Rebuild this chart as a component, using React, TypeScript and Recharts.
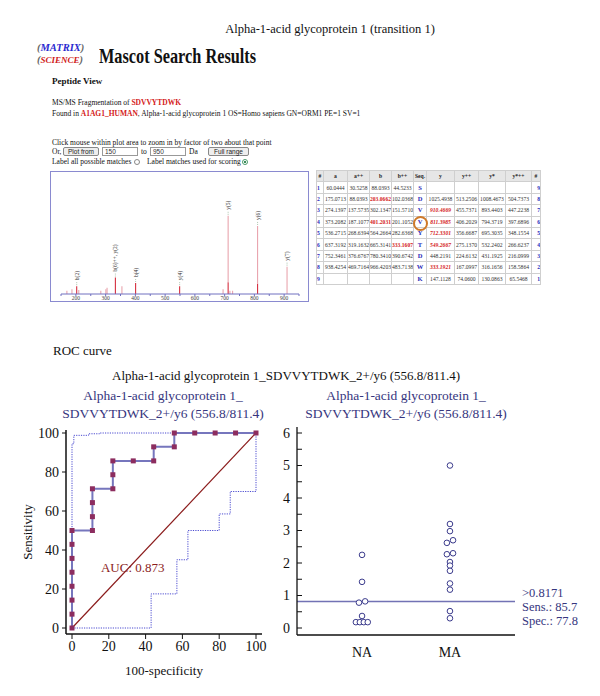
import React from 'react';
import {
  BarChart, Bar, XAxis, YAxis, LabelList, ComposedChart, Line, Scatter,
  ReferenceLine, ReferenceDot,
} from 'recharts';

const FONT = '"Liberation Serif", "Times New Roman", serif';
const NAVY = '#36367e';

// ---------- Spectrum (MS/MS) ----------
const peakMz = [170, 187, 203, 210, 284, 301, 305, 333, 355, 401, 549, 695, 712, 718, 727, 811, 910];
const peakMatched = [0, 0, 10, 0, 0, 0, 0, 21, 0, 14, 10, 0, 15, 0, 0, 13, 0];
const peakOther = [4, 6, 0, 5, 4, 6, 8, 0, 10, 0, 0, 6, 85, 4, 4, 74, 35];
const peakLabels = ['', '', 'b(2)', '', '', '', '', 'b(6)++, y(2)', '', 'b(4)', 'y(4)', '', 'y(5)', '', '', 'y(6)', 'y(7)'];
const spectrumTicks = [150, 200, 250, 300, 350, 400, 450, 500, 550, 600, 650, 700, 750, 800, 850, 900, 950];

const spectrumData = peakMz.map((mz, i) => ({
  mz, matched: peakMatched[i], other: peakOther[i], label: peakLabels[i],
}));

// ---------- Fragment table ----------
const tableHeader = ['#', 'a', 'a++', 'b', 'b++', 'Seq.', 'y', 'y++', 'y*', 'y*++', '#'];
const colA = ['60.0444', '175.0713', '274.1397', '373.2082', '536.2715', '637.3192', '752.3461', '938.4254', ''];
const colA2 = ['30.5258', '88.0393', '137.5735', '187.1077', '268.6394', '319.1632', '376.6767', '469.7164', ''];
const colB = ['88.0393', '203.0662', '302.1347', '401.2031', '564.2664', '665.3141', '780.3410', '966.4203', ''];
const colB2 = ['44.5233', '102.0368', '151.5710', '201.1052', '282.6368', '333.1607', '390.6742', '483.7138', ''];
const seqRes = ['S', 'D', 'V', 'V', 'Y', 'T', 'D', 'W', 'K'];
const colY = ['', '1025.4938', '910.4669', '811.3985', '712.3301', '549.2667', '448.2191', '333.1921', '147.1128'];
const colY2 = ['', '513.2506', '455.7371', '406.2029', '356.6687', '275.1370', '224.6132', '167.0997', '74.0600'];
const colYs = ['', '1008.4673', '893.4403', '794.3719', '695.3035', '532.2402', '431.1925', '316.1656', '130.0863'];
const colYs2 = ['', '504.7373', '447.2238', '397.6896', '348.1554', '266.6237', '216.0999', '158.5864', '65.5468'];
const redB = ['203.0662', '401.2031'];
const redB2 = ['333.1607'];
const redY = ['910.4669', '811.3985', '712.3301', '549.2667', '333.1921'];
const colWidths = [7, 24, 22, 22, 22, 13, 28, 24, 27, 26, 9];

// ---------- ROC curve ----------
const rocFpr = [0, 0, 0, 0, 0, 0, 0, 0, 11.1, 11.1, 11.1, 11.1, 22.2, 22.2, 22.2, 33.3, 44.4, 44.4, 55.6, 55.6, 66.7, 77.8, 88.9, 100];
const rocTpr = [0, 7.1, 14.3, 21.4, 28.6, 35.7, 42.9, 50, 50, 57.1, 64.3, 71.4, 71.4, 78.6, 85.7, 85.7, 85.7, 92.9, 92.9, 100, 100, 100, 100, 100];
const upperCiX = [0, 0, 1, 1, 9, 9, 15, 15, 100];
const upperCiY = [0, 94.5, 94.5, 98.8, 98.8, 99.6, 99.6, 100, 100];
const lowerCiX = [0, 43, 43, 57, 57, 63, 63, 80, 80, 86, 86, 100, 100];
const lowerCiY = [0, 0, 17.5, 17.5, 35, 35, 50, 50, 58.5, 58.5, 70, 70, 100];
const diagX = [0, 100];
const diagY = [0, 100];
const rocTicks = [0, 20, 40, 60, 80, 100];

const zip = (xs: number[], ys: number[]) => xs.map((x, i) => ({ x, y: ys[i] }));

// ---------- Dot plot ----------
const groupNames = ['NA', 'MA'];
const naValues = [2.25, 1.42, 0.78, 0.82, 0.37, 0.18, 0.18, 0.18, 0.18];
const naJitter = [0, 0, -0.035, 0.035, 0, -0.07, -0.025, 0.02, 0.065];
const maValues = [5.0, 3.2, 2.98, 2.7, 2.62, 2.3, 2.27, 2.03, 1.92, 1.76, 1.37, 1.18, 0.52, 0.3];
const maJitter = [0, 0, 0, 0.035, -0.035, 0.035, -0.035, 0, 0, 0, 0, 0, 0, 0];
const cutoff = 0.8171;
const cutoffText = ['>0.8171', 'Sens.: 85.7', 'Spec.: 77.8'];
const dotTicks = [0, 0.5, 1, 1.5, 2, 2.5, 3, 3.5, 4, 4.5, 5, 5.5, 6];

const naPoints = naValues.map((y, i) => ({ x: 1 + naJitter[i], y }));
const maPoints = maValues.map((y, i) => ({ x: 2 + maJitter[i], y }));

const makePeakLabel = (layer: 'matched' | 'other') => (props: any) => {
  const { x, y, width, value } = props;
  if (!value) return null;
  const d = spectrumData.find((e) => e.label === value);
  if (!d) return null;
  if (layer === 'matched' && d.other > 0) return null;
  if (layer === 'other' && d.other === 0) return null;
  const cx = Number(x) + Number(width) / 2;
  const top = Number(y);
  return (
    <g>
      <line x1={cx} x2={cx} y1={top - 1} y2={top - 5} stroke="#7aa07a" strokeWidth={0.6} strokeDasharray="1 1" />
      <text transform={`translate(${cx + 2},${top - 6}) rotate(-90)`} fontSize={5.5} fill="#333" fontFamily={FONT}>
        {value}
      </text>
    </g>
  );
};
const LabelMatched = makePeakLabel('matched');
const LabelOther = makePeakLabel('other');

const SquareDot = (props: any) => {
  const { cx, cy, index } = props;
  return <rect key={`sq${index}`} x={cx - 2.5} y={cy - 2.5} width={5} height={5} fill="#8c2d5f" />;
};

const OpenCircle = (props: any) => {
  const { cx, cy } = props;
  return <circle cx={cx} cy={cy} r={2.8} fill="#fff" stroke="#3b3b8c" strokeWidth={1} />;
};

const CutoffLabel = (props: any) => {
  const { viewBox } = props;
  const x = viewBox.x + viewBox.width + 7;
  const y = viewBox.y;
  return (
    <text fontSize={12.5} fill={NAVY} fontFamily={FONT}>
      <tspan x={x} y={y - 4.5}>{cutoffText[0]}</tspan>
      <tspan x={x} y={y + 9.5}>{cutoffText[1]}</tspan>
      <tspan x={x} y={y + 23.5}>{cutoffText[2]}</tspan>
    </text>
  );
};

const abs = (left: number, top: number, extra: React.CSSProperties = {}): React.CSSProperties => ({
  position: 'absolute', left, top, whiteSpace: 'nowrap', ...extra,
});

const btn: React.CSSProperties = {
  position: 'absolute', border: '1px solid #888', borderRadius: 2, background: '#eee',
  fontSize: 6.5, fontFamily: 'Arial, sans-serif', textAlign: 'center', lineHeight: '7px', color: '#222',
};
const inp: React.CSSProperties = {
  position: 'absolute', border: '1px solid #999', background: '#fff',
  fontSize: 6.5, fontFamily: 'Arial, sans-serif', lineHeight: '7px', paddingLeft: 2, color: '#333',
};

function FragmentTable() {
  const rows = seqRes.map((s, i) => [
    String(i + 1), colA[i], colA2[i], colB[i], colB2[i], s, colY[i], colY2[i], colYs[i], colYs2[i], String(9 - i),
  ]);
  const cellBase: React.CSSProperties = {
    border: '1px solid #cfcfcf', padding: 0, height: 10.4, fontSize: 5.6, textAlign: 'center',
    overflow: 'hidden', whiteSpace: 'nowrap', lineHeight: '10px', fontFamily: FONT, color: '#333',
  };
  return (
    <table style={{ position: 'absolute', left: 316, top: 170, borderCollapse: 'collapse', tableLayout: 'fixed', width: 224 }}>
      <colgroup>{colWidths.map((w, i) => <col key={i} style={{ width: w }} />)}</colgroup>
      <tbody>
        <tr>
          {tableHeader.map((h, i) => (
            <td key={i} style={{ ...cellBase, background: '#e6e6e6', fontWeight: 'bold', color: '#222' }}>{h}</td>
          ))}
        </tr>
        {rows.map((r, ri) => (
          <tr key={ri}>
            {r.map((v, ci) => {
              let st: React.CSSProperties = { ...cellBase };
              if (ci === 0 || ci === 10) st = { ...st, color: '#2a2ab8', fontWeight: 'bold', textAlign: ci === 0 ? 'left' : 'right' };
              if (ci === 5) st = { ...st, color: '#2a2ab8', fontWeight: 'bold', fontSize: 6.5, position: 'relative', overflow: 'visible' };
              if ((ci === 3 && redB.includes(v)) || (ci === 4 && redB2.includes(v))) st = { ...st, color: '#d42020', fontWeight: 'bold' };
              if (ci === 6 && redY.includes(v)) st = { ...st, color: '#d42020', fontWeight: 'bold', fontStyle: 'italic' };
              return (
                <td key={ci} style={st}>
                  {v}
                  {ci === 5 && ri === 3 ? (
                    <span style={{ position: 'absolute', left: -1, top: -1, width: 11, height: 11, borderRadius: '50%', border: '2px solid #cf7a2a' }} />
                  ) : null}
                </td>
              );
            })}
          </tr>
        ))}
      </tbody>
    </table>
  );
}

function Spectrum() {
  return (
    <div style={{ position: 'absolute', left: 50, top: 171, width: 257, height: 129, border: '1px solid #8a8ad0', background: '#fff' }}>
      <BarChart width={257} height={129} data={spectrumData} margin={{ top: 0, right: 9, left: 10, bottom: 0 }} barSize={2}>
        <XAxis
          type="number" dataKey="mz" domain={[150, 950]} ticks={spectrumTicks} interval={0}
          tickFormatter={(v: number) => (v % 100 === 0 && v > 150 && v < 950 ? String(v) : '')}
          height={7} tickSize={2} tickMargin={0}
          axisLine={{ stroke: '#7070c0' }} tickLine={{ stroke: '#7070c0' }}
          tick={{ fontSize: 5.5, fill: '#444', fontFamily: FONT }}
        />
        <YAxis hide domain={[0, 156]} />
        <Bar dataKey="matched" stackId="s" fill="#d4293a" isAnimationActive={false}>
          <LabelList dataKey="label" content={LabelMatched} />
        </Bar>
        <Bar dataKey="other" stackId="s" fill="#e8a2ac" isAnimationActive={false}>
          <LabelList dataKey="label" content={LabelOther} />
        </Bar>
      </BarChart>
    </div>
  );
}

function RocChart() {
  const axisLine = { stroke: '#111', strokeWidth: 1.5 };
  return (
    <div style={{ position: 'absolute', left: 0, top: 380 }}>
      <ComposedChart width={270} height={300} margin={{ top: 50, right: 8, left: 0, bottom: 0 }}>
        <XAxis
          type="number" dataKey="x" domain={[0, 100]} ticks={rocTicks} interval={0}
          padding={{ left: 6, right: 6 }} height={46} tickSize={5} tickMargin={2}
          axisLine={axisLine} tickLine={{ stroke: '#111' }}
          tick={{ fontSize: 14, fill: '#111', fontFamily: FONT }}
          label={{ value: '100-specificity', position: 'insideBottom', offset: 5, fontSize: 13, fill: '#111', fontFamily: FONT }}
        />
        <YAxis
          type="number" dataKey="y" domain={[0, 100]} ticks={rocTicks} interval={0}
          padding={{ top: 3, bottom: 6 }} width={66} tickSize={4} tickMargin={3}
          axisLine={axisLine} tickLine={{ stroke: '#111' }}
          tick={{ fontSize: 14, fill: '#111', fontFamily: FONT }}
          label={{ value: 'Sensitivity', angle: -90, position: 'insideLeft', offset: 27, fontSize: 13, fill: '#111', fontFamily: FONT, style: { textAnchor: 'middle' } }}
        />
        <XAxis xAxisId="top" orientation="top" type="number" domain={[0, 100]} height={0} tick={false} tickLine={false} axisLine={axisLine} />
        <YAxis yAxisId="right" orientation="right" type="number" domain={[0, 100]} width={0} tick={false} tickLine={false} axisLine={axisLine} />
        <Line data={zip(lowerCiX, lowerCiY)} dataKey="y" stroke="#4b4bd0" strokeWidth={1} strokeDasharray="1.2 1.2" dot={false} isAnimationActive={false} />
        <Line data={zip(upperCiX, upperCiY)} dataKey="y" stroke="#4b4bd0" strokeWidth={1} strokeDasharray="1.2 1.2" dot={false} isAnimationActive={false} />
        <Line data={zip(diagX, diagY)} dataKey="y" stroke="#8b1c1c" strokeWidth={1.2} dot={false} isAnimationActive={false} />
        <Line data={zip(rocFpr, rocTpr)} dataKey="y" stroke="#7676bd" strokeWidth={2} dot={SquareDot} isAnimationActive={false} />
        <ReferenceDot x={33} y={31} r={0} fill="none" stroke="none"
          label={{ value: 'AUC: 0.873', position: 'center', fill: '#8b1c1c', fontSize: 13, fontFamily: FONT }} />
      </ComposedChart>
    </div>
  );
}

function DotPlot() {
  const axisLine = { stroke: '#111', strokeWidth: 1.3 };
  return (
    <div style={{ position: 'absolute', left: 270, top: 380 }}>
      <ComposedChart width={330} height={300} margin={{ top: 47, right: 85, left: 0, bottom: 0 }}>
        <XAxis
          type="number" dataKey="x" domain={[0.26, 2.74]} ticks={[1, 2]} interval={0}
          tickFormatter={(v: number) => groupNames[v - 1]}
          height={45} tickLine={false} tickMargin={6}
          axisLine={axisLine} tick={{ fontSize: 14, fill: '#111', fontFamily: FONT }}
        />
        <YAxis
          type="number" dataKey="y" domain={[0, 6]} ticks={dotTicks} interval={0}
          tickFormatter={(v: number) => (Number.isInteger(v) ? String(v) : '')}
          padding={{ top: 6, bottom: 7 }} width={27} tickSize={-5} tickMargin={12}
          axisLine={axisLine} tickLine={{ stroke: '#111' }}
          tick={{ fontSize: 14, fill: '#111', fontFamily: FONT }}
        />
        <XAxis xAxisId="top" orientation="top" type="number" domain={[0.26, 2.74]} height={0} tick={false} tickLine={false} axisLine={axisLine} />
        <YAxis yAxisId="right" orientation="right" type="number" domain={[0, 6]} width={0} tick={false} tickLine={false} axisLine={axisLine} />
        <ReferenceLine y={cutoff} stroke="#7272b4" strokeWidth={1.5} label={<CutoffLabel />} />
        <Scatter data={naPoints} shape={OpenCircle} isAnimationActive={false} />
        <Scatter data={maPoints} shape={OpenCircle} isAnimationActive={false} />
      </ComposedChart>
    </div>
  );
}

export default function App() {
  return (
    <div style={{ position: 'absolute', left: 0, top: 0, width: 600, height: 696, background: '#fff', overflow: 'hidden', fontFamily: FONT, color: '#111' }}>
      {/* figure title */}
      <div style={abs(130, 22, { width: 400, textAlign: 'center', fontSize: 12.5 })}>Alpha-1-acid glycoprotein 1 (transition 1)</div>

      {/* Mascot header */}
      <div style={abs(37, 42, { fontSize: 10.5, fontStyle: 'italic', fontWeight: 'bold', lineHeight: '12px', fontFamily: FONT })}>
        <div><span style={{ color: '#666' }}>(</span><span style={{ color: '#2b2bd0' }}>MATRIX</span><span style={{ color: '#666' }}>)</span></div>
        <div><span style={{ color: '#666' }}>(</span><span style={{ color: '#d02020', fontSize: 9 }}>SCIENCE</span><span style={{ color: '#666' }}>)</span></div>
      </div>
      <div style={abs(99, 44, { fontSize: 22, fontWeight: 'bold', lineHeight: '24px', transform: 'scaleX(0.74)', transformOrigin: 'left center' })}>Mascot Search Results</div>
      <div style={abs(52, 76, { fontSize: 9, fontWeight: 'bold', lineHeight: '11px' })}>Peptide View</div>
      <div style={abs(52, 98, { fontSize: 7.5, lineHeight: '10px' })}>
        MS/MS Fragmentation of <span style={{ color: '#d42020', fontWeight: 'bold' }}>SDVVYTDWK</span>
      </div>
      <div style={abs(52, 109, { fontSize: 7.5, lineHeight: '10px' })}>
        Found in <span style={{ color: '#d42020', fontWeight: 'bold' }}>A1AG1_HUMAN</span>, Alpha-1-acid glycoprotein 1 OS=Homo sapiens GN=ORM1 PE=1 SV=1
      </div>
      <div style={abs(52, 138, { fontSize: 7.5, lineHeight: '9px' })}>Click mouse within plot area to zoom in by factor of two about that point</div>
      <div style={abs(52, 147, { fontSize: 7.5, lineHeight: '9px' })}>Or,</div>
      <div style={{ ...btn, left: 63, top: 147, width: 34, height: 7 }}>Plot from</div>
      <div style={{ ...inp, left: 102, top: 147, width: 32, height: 7 }}>150</div>
      <div style={abs(141, 147, { fontSize: 7.5, lineHeight: '9px' })}>to</div>
      <div style={{ ...inp, left: 150, top: 147, width: 32, height: 7 }}>950</div>
      <div style={abs(189, 147, { fontSize: 7.5, lineHeight: '9px' })}>Da</div>
      <div style={{ ...btn, left: 208, top: 147, width: 39, height: 7 }}>Full range</div>
      <div style={abs(52, 157, { fontSize: 7.5, lineHeight: '9px' })}>Label all possible matches</div>
      <div style={{ position: 'absolute', left: 134, top: 159, width: 4, height: 4, borderRadius: '50%', border: '1px solid #888' }} />
      <div style={abs(147, 157, { fontSize: 7.5, lineHeight: '9px' })}>Label matches used for scoring</div>
      <div style={{ position: 'absolute', left: 242, top: 159, width: 4, height: 4, borderRadius: '50%', border: '1px solid #4a9a6a', background: 'radial-gradient(circle, #3a8a5a 35%, #fff 45%)' }} />

      <Spectrum />
      <FragmentTable />

      {/* ROC section */}
      <div style={abs(53, 343, { fontSize: 13, lineHeight: '15px' })}>ROC curve</div>
      <div style={abs(112, 368, { fontSize: 13, lineHeight: '15px' })}>Alpha-1-acid glycoprotein 1_SDVVYTDWK_2+/y6 (556.8/811.4)</div>

      <div style={abs(33, 387, { width: 260, textAlign: 'center', fontSize: 13.5, lineHeight: '18px', color: NAVY })}>
        Alpha-1-acid glycoprotein 1_<br />SDVVYTDWK_2+/y6 (556.8/811.4)
      </div>
      <div style={abs(276, 387, { width: 260, textAlign: 'center', fontSize: 13.5, lineHeight: '18px', color: NAVY })}>
        Alpha-1-acid glycoprotein 1_<br />SDVVYTDWK_2+/y6 (556.8/811.4)
      </div>

      <RocChart />
      <DotPlot />
    </div>
  );
}
